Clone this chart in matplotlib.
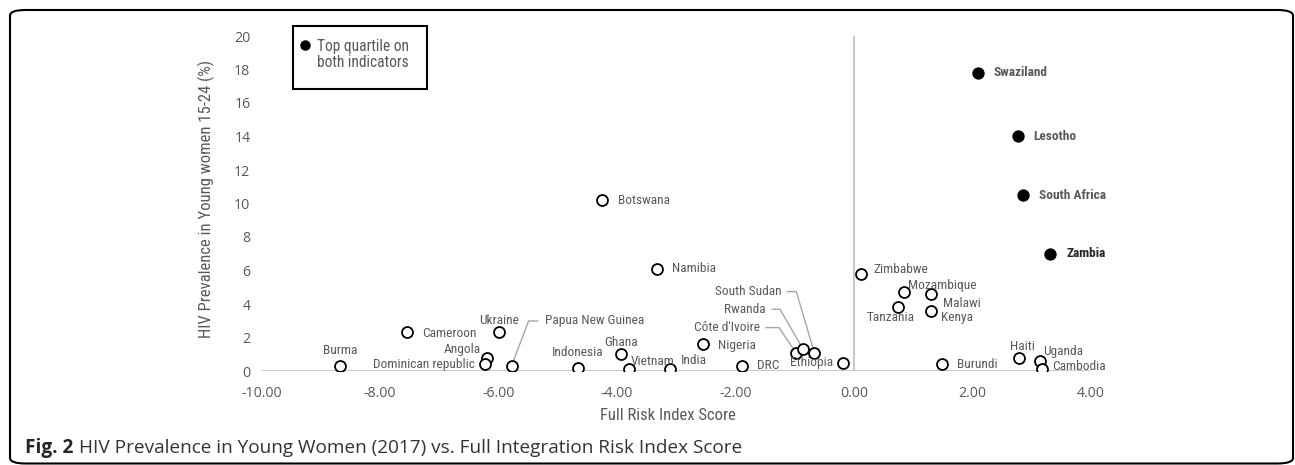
import numpy as np
import matplotlib
matplotlib.use("Agg")
import matplotlib.pyplot as plt
from matplotlib.patches import FancyBboxPatch, Rectangle
from matplotlib.lines import Line2D

# country data
countries = ["Swaziland", "Lesotho", "South Africa", "Zambia",
             "Zimbabwe", "Mozambique", "Malawi", "Tanzania", "Kenya",
             "Burundi", "Haiti", "Uganda", "Cambodia",
             "Namibia", "Nigeria", "DRC", "India", "Vietnam", "Ghana",
             "Côte d'Ivoire", "Rwanda", "South Sudan", "Ethiopia",
             "Burma", "Cameroon", "Ukraine", "Angola", "Dominican republic",
             "Papua New Guinea", "Indonesia", "Botswana"]
risk_score = [2.09, 2.77, 2.85, 3.31,
              0.12, 0.85, 1.30, 0.75, 1.30,
              1.48, 2.78, 3.14, 3.17,
              -3.33, -2.55, -1.89, -3.11, -3.80, -3.94,
              -0.98, -0.86, -0.67, -0.18,
              -8.68, -7.54, -5.99, -6.19, -6.22,
              -5.78, -4.66, -4.25]
prevalence = [17.8, 14.0, 10.5, 7.0,
              5.8, 4.7, 4.6, 3.8, 3.6,
              0.4, 0.8, 0.6, 0.1,
              6.1, 1.6, 0.3, 0.1, 0.1, 1.0,
              1.1, 1.3, 1.1, 0.5,
              0.3, 2.3, 2.3, 0.8, 0.4,
              0.3, 0.2, 10.2]
top_quartile = ["Swaziland", "Lesotho", "South Africa", "Zambia"]

# label placement: pixel offset from point (dx, dy up), alignment
label_pos = {
    "Swaziland": (16, 0, "left"), "Lesotho": (15, 0, "left"),
    "South Africa": (16, 0, "left"), "Zambia": (16, 0, "left"),
    "Zimbabwe": (12, 4, "left"), "Mozambique": (4, 7, "left"),
    "Malawi": (12, -10, "left"), "Kenya": (10, -7, "left"),
    "Tanzania": (-8, -10, "center"), "Burundi": (15, 0, "left"),
    "Haiti": (4, 11, "center"), "Uganda": (3, 9, "left"),
    "Cambodia": (10, 3, "left"), "Namibia": (15, 0, "left"),
    "Nigeria": (15, -1, "left"), "DRC": (15, 0, "left"),
    "India": (11, 9, "left"), "Vietnam": (2, 8, "left"),
    "Ghana": (1, 12, "center"), "Ethiopia": (-10, 0, "right"),
    "Côte d'Ivoire": (-36, 25, "right"), "Rwanda": (-37, 40, "right"),
    "South Sudan": (-33, 61, "right"), "Papua New Guinea": (33, 45, "left"),
    "Burma": (0, 15, "center"), "Cameroon": (15, -1, "left"),
    "Ukraine": (0, 12, "center"), "Angola": (-6, 8, "right"),
    "Dominican republic": (-11, 0, "right"), "Indonesia": (0, 15, "center"),
    "Botswana": (16, 0, "left"),
}
# leader lines: (start dx, knee dx) at label height
leaders = {"Côte d'Ivoire": (-30, -17), "Rwanda": (-31, -23),
           "South Sudan": (-27, -18), "Papua New Guinea": (26, 17)}

W, H = 1295, 465
fig = plt.figure(figsize=(W / 100, H / 100), dpi=100)
narrow = ["Roboto Condensed", "Liberation Sans Narrow", "Roboto", "DejaVu Sans"]
gray = "#595959"

ax = fig.add_axes([261.5 / W, 1 - 371 / H, (1091 - 261.5) / W, (371 - 36) / H])
ax.set_xlim(-10, 4)
ax.set_ylim(0, 20)
for s in ax.spines.values():
    s.set_visible(False)
ax.axhline(0, color="#bfbfbf", lw=1.2, zorder=1)
ax.axvline(0, color="#bfbfbf", lw=1.2, zorder=1)
ax.set_xticks(np.arange(-10, 5, 2))
ax.set_xticklabels([f"{v:.2f}" for v in np.arange(-10, 5, 2)])
ax.set_yticks(np.arange(0, 21, 2))
ax.tick_params(length=0, labelsize=10.2, labelcolor=gray, pad=8)
ax.tick_params(axis="x", pad=11)
for lab in ax.get_xticklabels() + ax.get_yticklabels():
    lab.set_family(["Open Sans", "DejaVu Sans"])

x = np.array(risk_score)
y = np.array(prevalence)
filled = np.array([c in top_quartile for c in countries])
ax.scatter(x[~filled], y[~filled], s=62, facecolor="white", edgecolor="black",
           linewidth=1.3, zorder=3)
ax.scatter(x[filled], y[filled], s=62, facecolor="black", edgecolor="black",
           linewidth=1.0, zorder=3)

to_px = ax.transData
from_px = ax.transData.inverted()
for c, xv, yv in zip(countries, x, y):
    dx, dy, ha = label_pos[c]
    bold = c in top_quartile
    color = "#262626" if c == "Zambia" else gray
    ax.annotate(c, (xv, yv), xytext=(dx, dy), textcoords="offset pixels",
                ha=ha, va="center", fontsize=9.6, family=narrow,
                fontweight="bold" if bold else "normal", color=color, zorder=4)
    if c in leaders:
        px, py = to_px.transform((xv, yv))
        s0, k = leaders[c]
        vx, vy = px - (px + k), py - (py + dy)
        d = np.hypot(vx, vy)
        end = (px - vx / d * 6, py - vy / d * 6)
        pts = from_px.transform([(px + s0, py + dy), (px + k, py + dy), end])
        ax.plot(pts[:, 0], pts[:, 1], color="#a6a6a6", lw=1.0, zorder=2)

# legend box
fig.patches.append(Rectangle((293 / W, 1 - 89.5 / H), 134 / W, 63.5 / H,
                             transform=fig.transFigure, facecolor="white",
                             edgecolor="black", lw=1.5))
fig.lines.append(Line2D([305 / W], [1 - 45 / H], marker="o", markersize=6.5,
                        color="black", transform=fig.transFigure))
fig.text(317 / W, 1 - 54.5 / H, "Top quartile on\nboth indicators", ha="left",
         va="center", fontsize=11.2, family=narrow, color=gray, linespacing=1.15)

fig.text(668 / W, 1 - 415.5 / H, "Full Risk Index Score", ha="center",
         va="center", fontsize=12, family=narrow, color=gray)
fig.text(206 / W, 1 - 199 / H, "HIV Prevalence in Young women 15-24 (%)",
         ha="center", va="center", rotation=90, fontsize=12, family=narrow,
         color=gray)

# outer rounded frame
fig.patches.append(FancyBboxPatch((10 / W, 1.5 / H), 1283 / W, 453.5 / H,
                                  boxstyle="round,pad=0,rounding_size=0.012",
                                  transform=fig.transFigure, facecolor="none",
                                  edgecolor="black", lw=1.5))

# caption
cap_font = ["Open Sans", "DejaVu Sans"]
t1 = fig.text(25 / W, 1 - 453 / H, "Fig. 2", ha="left", va="baseline",
              fontsize=13.7, fontweight="bold", family=cap_font, color="#262626")
r = fig.canvas.get_renderer()
bb = t1.get_window_extent(r)
fig.text(bb.x1 / W + 6 / W, 1 - 453 / H,
         "HIV Prevalence in Young Women (2017) vs. Full Integration Risk Index Score",
         ha="left", va="baseline", fontsize=13.7, family=cap_font, color="#333333")

fig.savefig("out.png", dpi=100)
